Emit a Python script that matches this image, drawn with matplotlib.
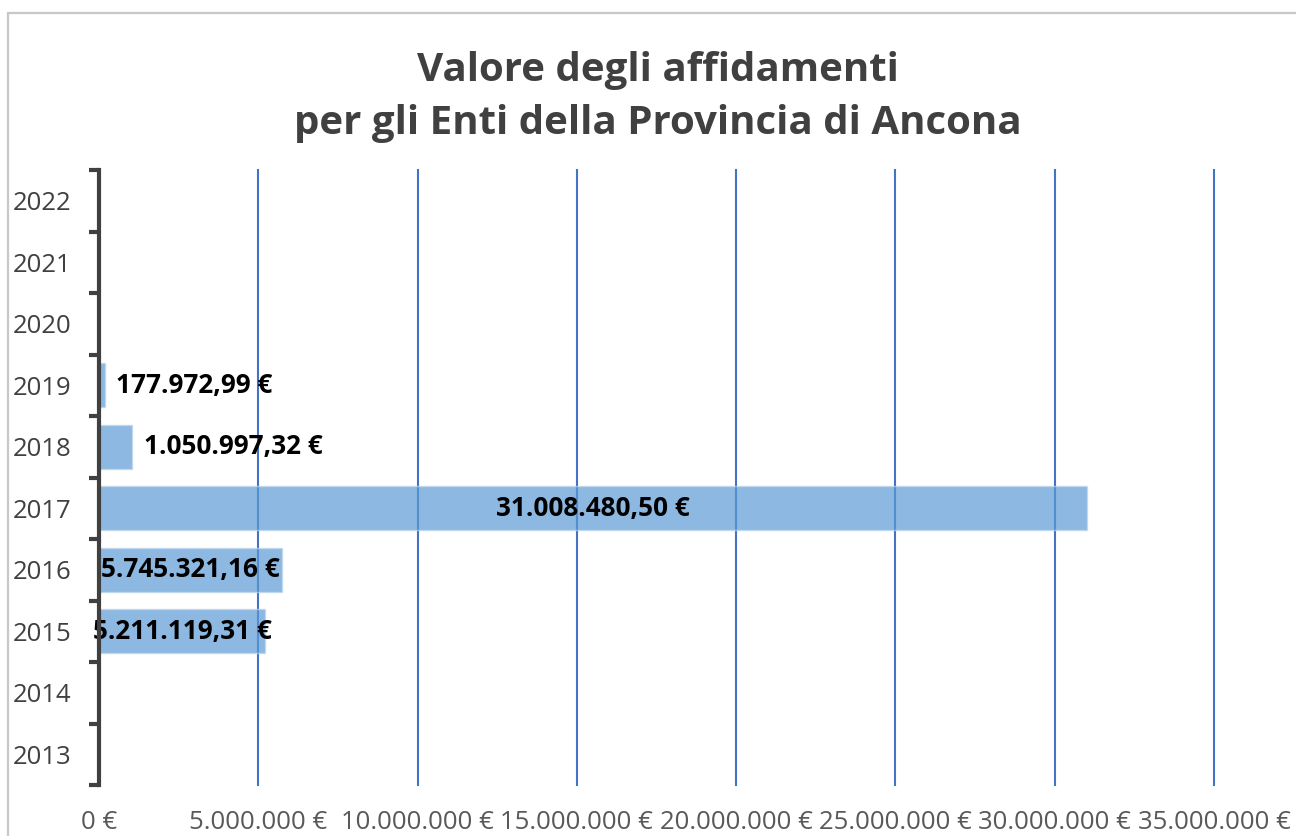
import numpy as np
import matplotlib
matplotlib.use('Agg')
from matplotlib import pyplot as plt
from matplotlib.patches import Rectangle

plt.rcParams['font.family'] = ['Open Sans', 'DejaVu Sans']

### Data ###
years = ['2013', '2014', '2015', '2016', '2017', '2018', '2019', '2020', '2021', '2022']
values = [0, 0, 5211119.31, 5745321.16, 31008480.50, 1050997.32, 177972.99, 0, 0, 0]
# where the data label sits: inside the bar (centre) or after its end
label_pos = [None, None, 'center', 'center', 'center', 'outside', 'outside', None, None, None]

x_ticks = [0, 5e6, 10e6, 15e6, 20e6, 25e6, 30e6, 35e6]

title = 'Valore degli affidamenti\nper gli Enti della Provincia di Ancona'


def euro(v, decimals=2):
    # Italian format: 1.234.567,89 €
    s = f'{v:,.{decimals}f}'
    s = s.replace(',', '#').replace('.', ',').replace('#', '.')
    return s + ' €'


W, H = 1296, 836
fig = plt.figure(figsize=(W / 100, H / 100), dpi=100)

# light frame of the chart area (cut off on the right/bottom)
fig.patches.append(Rectangle((8 / W, -0.05), 1.2, 1 - 13 / H + 0.05,
                             transform=fig.transFigure, fill=False,
                             edgecolor='#C8C8C8', linewidth=1.6))

ax = fig.add_axes([99 / W, 1 - 785 / H, (1214 - 99) / W, (785 - 170) / H])

ypos = np.arange(len(years))
for y, v, pos in zip(ypos, values, label_pos):
    if v <= 0:
        continue
    ax.barh(y, v, height=0.72, color='#5B9BD5', alpha=0.7,
            edgecolor='#BDD7EE', linewidth=1.0, zorder=1)
    if pos == 'center':
        ax.text(v / 2, y, euro(v), ha='center', va='center',
                fontsize=18.8, fontweight='bold', color='black', zorder=3)
    else:
        ax.annotate(euro(v), (v, y), xytext=(8, 0), textcoords='offset points',
                    ha='left', va='center', fontsize=18.8, fontweight='bold',
                    color='black', zorder=3)

ax.set_xlim(0, 35e6)
ax.set_ylim(-0.5, len(years) - 0.5)

ax.set_xticks(x_ticks)
ax.set_xticklabels([euro(t, 0) for t in x_ticks])
ax.tick_params(axis='x', length=0, pad=18, labelsize=18.5, labelcolor='#595959')

ax.set_yticks(ypos)
ax.set_yticklabels(years)
ax.set_yticks(np.arange(-0.5, len(years), 1), minor=True)
ax.tick_params(axis='y', which='major', length=0, pad=20, labelsize=18.5,
               labelcolor='#404040')
ax.tick_params(axis='y', which='minor', length=7, width=3, color='#404040')

ax.grid(axis='x', color='#4472C4', linewidth=1.5, zorder=0)
ax.set_axisbelow(True)
for gl in ax.get_xgridlines():
    gl.set_clip_on(False)
for side in ['top', 'right', 'bottom']:
    ax.spines[side].set_visible(False)
ax.spines['left'].set_color('#404040')
ax.spines['left'].set_linewidth(3)
ax.spines['left'].set_zorder(4)

fig.text(658 / W, 1 - 97 / H, title, ha='center', va='center',
         fontsize=29, fontweight='bold', color='#404040', linespacing=1.45)

fig.savefig('out.png', dpi=100)
